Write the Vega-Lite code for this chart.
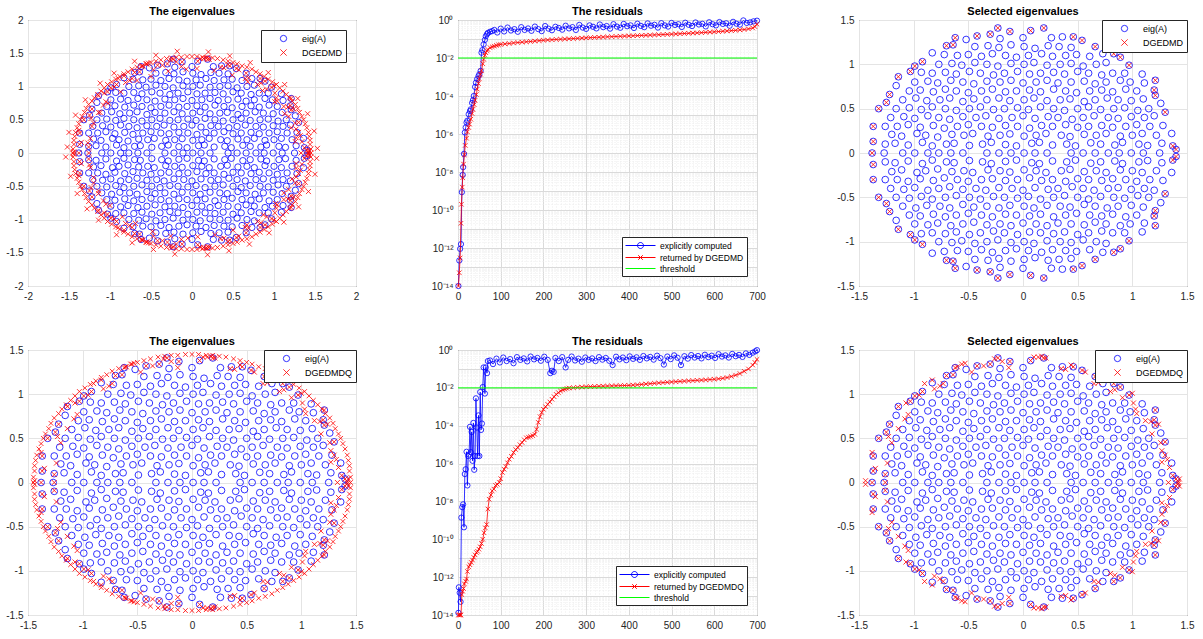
{
"$schema":"https://vega.github.io/schema/vega-lite/v6.json",
"padding":{"left":5,"top":5,"right":5,"bottom":5},
"datasets":{
"eig":[{"x":-1.26,"y":0.1},{"x":-1.17,"y":0.11},{"x":-1.05,"y":0.09},{"x":-0.92,"y":0.12},{"x":-0.83,"y":0.08},{"x":-0.7,"y":0.1},{"x":-0.63,"y":0.11},{"x":-0.49,"y":0.085},{"x":-0.37,"y":0.1},{"x":-0.29,"y":0.12},{"x":-0.16,"y":0.095},{"x":-0.06,"y":0.08},{"x":0.08,"y":0.11},{"x":0.15,"y":0.12},{"x":0.27,"y":0.09},{"x":0.4,"y":0.1},{"x":0.48,"y":0.08},{"x":0.62,"y":0.115},{"x":0.71,"y":0.1},{"x":0.84,"y":0.09},{"x":0.91,"y":0.12},{"x":1.06,"y":0.1},{"x":1.14,"y":0.085},{"x":1.27,"y":0.11},
{"x":-1.2,"y":0.21},{"x":-1.11,"y":0.19},{"x":-0.97,"y":0.22},{"x":-0.89,"y":0.2},{"x":-0.78,"y":0.18},{"x":-0.65,"y":0.21},{"x":-0.54,"y":0.2},{"x":-0.46,"y":0.22},{"x":-0.32,"y":0.19},{"x":-0.21,"y":0.2},{"x":-0.12,"y":0.215},{"x":0.01,"y":0.19},{"x":0.12,"y":0.2},{"x":0.21,"y":0.22},{"x":0.35,"y":0.2},{"x":0.43,"y":0.185},{"x":0.56,"y":0.21},{"x":0.67,"y":0.2},{"x":0.76,"y":0.22},{"x":0.89,"y":0.19},{"x":1,"y":0.2},{"x":1.09,"y":0.22},{"x":1.22,"y":0.2},
{"x":-1.15,"y":0.3},{"x":-1.05,"y":0.32},{"x":-0.94,"y":0.29},{"x":-0.82,"y":0.31},{"x":-0.72,"y":0.28},{"x":-0.6,"y":0.3},{"x":-0.5,"y":0.32},{"x":-0.38,"y":0.3},{"x":-0.28,"y":0.29},{"x":-0.16,"y":0.31},{"x":-0.05,"y":0.3},{"x":0.06,"y":0.28},{"x":0.17,"y":0.31},{"x":0.27,"y":0.3},{"x":0.39,"y":0.32},{"x":0.5,"y":0.29},{"x":0.6,"y":0.3},{"x":0.72,"y":0.31},{"x":0.82,"y":0.29},{"x":0.94,"y":0.3},{"x":1.04,"y":0.32},{"x":1.16,"y":0.3},
{"x":-1.21,"y":0.4},{"x":-1.09,"y":0.41},{"x":-0.99,"y":0.39},{"x":-0.87,"y":0.42},{"x":-0.77,"y":0.4},{"x":-0.67,"y":0.38},{"x":-0.55,"y":0.41},{"x":-0.43,"y":0.4},{"x":-0.34,"y":0.42},{"x":-0.22,"y":0.39},{"x":-0.1,"y":0.4},{"x":0,"y":0.42},{"x":0.11,"y":0.39},{"x":0.23,"y":0.41},{"x":0.32,"y":0.4},{"x":0.45,"y":0.38},{"x":0.55,"y":0.4},{"x":0.65,"y":0.42},{"x":0.78,"y":0.4},{"x":0.87,"y":0.39},{"x":0.99,"y":0.41},{"x":1.11,"y":0.4},{"x":1.2,"y":0.42},
{"x":-1.16,"y":0.5},{"x":-1.04,"y":0.51},{"x":-0.93,"y":0.49},{"x":-0.83,"y":0.52},{"x":-0.71,"y":0.5},{"x":-0.61,"y":0.48},{"x":-0.49,"y":0.5},{"x":-0.39,"y":0.52},{"x":-0.27,"y":0.49},{"x":-0.17,"y":0.5},{"x":-0.05,"y":0.51},{"x":0.05,"y":0.49},{"x":0.16,"y":0.52},{"x":0.28,"y":0.5},{"x":0.38,"y":0.48},{"x":0.5,"y":0.5},{"x":0.6,"y":0.52},{"x":0.71,"y":0.49},{"x":0.83,"y":0.5},{"x":0.93,"y":0.51},{"x":1.05,"y":0.48},{"x":1.15,"y":0.5},
{"x":-1.1,"y":0.6},{"x":-0.98,"y":0.62},{"x":-0.88,"y":0.59},{"x":-0.76,"y":0.6},{"x":-0.67,"y":0.62},{"x":-0.55,"y":0.58},{"x":-0.45,"y":0.61},{"x":-0.33,"y":0.6},{"x":-0.22,"y":0.62},{"x":-0.12,"y":0.59},{"x":0.01,"y":0.6},{"x":0.1,"y":0.62},{"x":0.22,"y":0.59},{"x":0.34,"y":0.6},{"x":0.43,"y":0.61},{"x":0.56,"y":0.58},{"x":0.66,"y":0.6},{"x":0.77,"y":0.62},{"x":0.87,"y":0.6},{"x":0.99,"y":0.59},{"x":1.1,"y":0.61},
{"x":-1.04,"y":0.7},{"x":-0.94,"y":0.71},{"x":-0.82,"y":0.69},{"x":-0.71,"y":0.72},{"x":-0.61,"y":0.7},{"x":-0.5,"y":0.68},{"x":-0.38,"y":0.7},{"x":-0.28,"y":0.72},{"x":-0.16,"y":0.69},{"x":-0.06,"y":0.7},{"x":0.06,"y":0.71},{"x":0.16,"y":0.69},{"x":0.28,"y":0.72},{"x":0.39,"y":0.7},{"x":0.49,"y":0.68},{"x":0.61,"y":0.7},{"x":0.72,"y":0.71},{"x":0.82,"y":0.69},{"x":0.94,"y":0.72},{"x":1.04,"y":0.7},
{"x":-0.99,"y":0.8},{"x":-0.87,"y":0.81},{"x":-0.78,"y":0.79},{"x":-0.66,"y":0.82},{"x":-0.55,"y":0.8},{"x":-0.45,"y":0.78},{"x":-0.33,"y":0.81},{"x":-0.21,"y":0.8},{"x":-0.11,"y":0.82},{"x":0,"y":0.79},{"x":0.12,"y":0.8},{"x":0.22,"y":0.82},{"x":0.32,"y":0.79},{"x":0.44,"y":0.8},{"x":0.56,"y":0.81},{"x":0.66,"y":0.78},{"x":0.76,"y":0.8},{"x":0.89,"y":0.82},{"x":0.98,"y":0.8},
{"x":-0.83,"y":0.9},{"x":-0.71,"y":0.91},{"x":-0.61,"y":0.89},{"x":-0.49,"y":0.92},{"x":-0.39,"y":0.9},{"x":-0.27,"y":0.88},{"x":-0.17,"y":0.9},{"x":-0.05,"y":0.92},{"x":0.06,"y":0.89},{"x":0.16,"y":0.9},{"x":0.28,"y":0.91},{"x":0.38,"y":0.89},{"x":0.5,"y":0.92},{"x":0.6,"y":0.9},{"x":0.72,"y":0.88},{"x":0.82,"y":0.9},
{"x":-0.77,"y":1},{"x":-0.65,"y":1.01},{"x":-0.56,"y":0.99},{"x":-0.44,"y":1.02},{"x":-0.33,"y":1},{"x":-0.23,"y":0.98},{"x":-0.11,"y":1.01},{"x":0.01,"y":1},{"x":0.1,"y":1.02},{"x":0.22,"y":0.99},{"x":0.34,"y":1},{"x":0.44,"y":1.01},{"x":0.55,"y":0.98},{"x":0.67,"y":1},{"x":0.76,"y":1.02},
{"x":-0.6,"y":1.1},{"x":-0.5,"y":1.11},{"x":-0.38,"y":1.09},{"x":-0.28,"y":1.12},{"x":-0.16,"y":1.1},{"x":-0.06,"y":1.08},{"x":0.05,"y":1.1},{"x":0.17,"y":1.12},{"x":0.27,"y":1.09},{"x":0.39,"y":1.1},{"x":0.49,"y":1.11},{"x":0.61,"y":1.09},
{"x":-0.44,"y":1.2},{"x":-0.32,"y":1.21},{"x":-0.22,"y":1.19},{"x":-0.11,"y":1.22},{"x":0.01,"y":1.2},{"x":0.11,"y":1.18},{"x":0.23,"y":1.21},{"x":0.33,"y":1.2},{"x":0.44,"y":1.19},
{"x":1.09,"y":0.89},{"x":-0.83,"y":1.13},{"x":-1.16,"y":0.76},{"x":1.36,"y":0.22},{"x":1.26,"y":0.56},{"x":0,"y":1.3},{"x":0.26,"y":1.3},{"x":0.36,"y":1.31},{"x":-0.52,"y":1.28},{"x":-0.21,"y":1.29},{"x":0.73,"y":1.12},{"x":-0.72,"y":1.11},{"x":-0.93,"y":0.91},{"x":0.93,"y":0.9},{"x":1.11,"y":0.79},{"x":-1.26,"y":0.3},{"x":1.28,"y":0.31},
{"x":-1.26,"y":-0.1},{"x":-1.17,"y":-0.11},{"x":-1.05,"y":-0.09},{"x":-0.92,"y":-0.12},{"x":-0.83,"y":-0.08},{"x":-0.7,"y":-0.1},{"x":-0.63,"y":-0.11},{"x":-0.49,"y":-0.085},{"x":-0.37,"y":-0.1},{"x":-0.29,"y":-0.12},{"x":-0.16,"y":-0.095},{"x":-0.06,"y":-0.08},{"x":0.08,"y":-0.11},{"x":0.15,"y":-0.12},{"x":0.27,"y":-0.09},{"x":0.4,"y":-0.1},{"x":0.48,"y":-0.08},{"x":0.62,"y":-0.115},{"x":0.71,"y":-0.1},{"x":0.84,"y":-0.09},{"x":0.91,"y":-0.12},{"x":1.06,"y":-0.1},{"x":1.14,"y":-0.085},{"x":1.27,"y":-0.11},
{"x":-1.2,"y":-0.21},{"x":-1.11,"y":-0.19},{"x":-0.97,"y":-0.22},{"x":-0.89,"y":-0.2},{"x":-0.78,"y":-0.18},{"x":-0.65,"y":-0.21},{"x":-0.54,"y":-0.2},{"x":-0.46,"y":-0.22},{"x":-0.32,"y":-0.19},{"x":-0.21,"y":-0.2},{"x":-0.12,"y":-0.215},{"x":0.01,"y":-0.19},{"x":0.12,"y":-0.2},{"x":0.21,"y":-0.22},{"x":0.35,"y":-0.2},{"x":0.43,"y":-0.185},{"x":0.56,"y":-0.21},{"x":0.67,"y":-0.2},{"x":0.76,"y":-0.22},{"x":0.89,"y":-0.19},{"x":1,"y":-0.2},{"x":1.09,"y":-0.22},{"x":1.22,"y":-0.2},
{"x":-1.15,"y":-0.3},{"x":-1.05,"y":-0.32},{"x":-0.94,"y":-0.29},{"x":-0.82,"y":-0.31},{"x":-0.72,"y":-0.28},{"x":-0.6,"y":-0.3},{"x":-0.5,"y":-0.32},{"x":-0.38,"y":-0.3},{"x":-0.28,"y":-0.29},{"x":-0.16,"y":-0.31},{"x":-0.05,"y":-0.3},{"x":0.06,"y":-0.28},{"x":0.17,"y":-0.31},{"x":0.27,"y":-0.3},{"x":0.39,"y":-0.32},{"x":0.5,"y":-0.29},{"x":0.6,"y":-0.3},{"x":0.72,"y":-0.31},{"x":0.82,"y":-0.29},{"x":0.94,"y":-0.3},{"x":1.04,"y":-0.32},{"x":1.16,"y":-0.3},
{"x":-1.21,"y":-0.4},{"x":-1.09,"y":-0.41},{"x":-0.99,"y":-0.39},{"x":-0.87,"y":-0.42},{"x":-0.77,"y":-0.4},{"x":-0.67,"y":-0.38},{"x":-0.55,"y":-0.41},{"x":-0.43,"y":-0.4},{"x":-0.34,"y":-0.42},{"x":-0.22,"y":-0.39},{"x":-0.1,"y":-0.4},{"x":0,"y":-0.42},{"x":0.11,"y":-0.39},{"x":0.23,"y":-0.41},{"x":0.32,"y":-0.4},{"x":0.45,"y":-0.38},{"x":0.55,"y":-0.4},{"x":0.65,"y":-0.42},{"x":0.78,"y":-0.4},{"x":0.87,"y":-0.39},{"x":0.99,"y":-0.41},{"x":1.11,"y":-0.4},{"x":1.2,"y":-0.42},
{"x":-1.16,"y":-0.5},{"x":-1.04,"y":-0.51},{"x":-0.93,"y":-0.49},{"x":-0.83,"y":-0.52},{"x":-0.71,"y":-0.5},{"x":-0.61,"y":-0.48},{"x":-0.49,"y":-0.5},{"x":-0.39,"y":-0.52},{"x":-0.27,"y":-0.49},{"x":-0.17,"y":-0.5},{"x":-0.05,"y":-0.51},{"x":0.05,"y":-0.49},{"x":0.16,"y":-0.52},{"x":0.28,"y":-0.5},{"x":0.38,"y":-0.48},{"x":0.5,"y":-0.5},{"x":0.6,"y":-0.52},{"x":0.71,"y":-0.49},{"x":0.83,"y":-0.5},{"x":0.93,"y":-0.51},{"x":1.05,"y":-0.48},{"x":1.15,"y":-0.5},
{"x":-1.1,"y":-0.6},{"x":-0.98,"y":-0.62},{"x":-0.88,"y":-0.59},{"x":-0.76,"y":-0.6},{"x":-0.67,"y":-0.62},{"x":-0.55,"y":-0.58},{"x":-0.45,"y":-0.61},{"x":-0.33,"y":-0.6},{"x":-0.22,"y":-0.62},{"x":-0.12,"y":-0.59},{"x":0.01,"y":-0.6},{"x":0.1,"y":-0.62},{"x":0.22,"y":-0.59},{"x":0.34,"y":-0.6},{"x":0.43,"y":-0.61},{"x":0.56,"y":-0.58},{"x":0.66,"y":-0.6},{"x":0.77,"y":-0.62},{"x":0.87,"y":-0.6},{"x":0.99,"y":-0.59},{"x":1.1,"y":-0.61},
{"x":-1.04,"y":-0.7},{"x":-0.94,"y":-0.71},{"x":-0.82,"y":-0.69},{"x":-0.71,"y":-0.72},{"x":-0.61,"y":-0.7},{"x":-0.5,"y":-0.68},{"x":-0.38,"y":-0.7},{"x":-0.28,"y":-0.72},{"x":-0.16,"y":-0.69},{"x":-0.06,"y":-0.7},{"x":0.06,"y":-0.71},{"x":0.16,"y":-0.69},{"x":0.28,"y":-0.72},{"x":0.39,"y":-0.7},{"x":0.49,"y":-0.68},{"x":0.61,"y":-0.7},{"x":0.72,"y":-0.71},{"x":0.82,"y":-0.69},{"x":0.94,"y":-0.72},{"x":1.04,"y":-0.7},
{"x":-0.99,"y":-0.8},{"x":-0.87,"y":-0.81},{"x":-0.78,"y":-0.79},{"x":-0.66,"y":-0.82},{"x":-0.55,"y":-0.8},{"x":-0.45,"y":-0.78},{"x":-0.33,"y":-0.81},{"x":-0.21,"y":-0.8},{"x":-0.11,"y":-0.82},{"x":0,"y":-0.79},{"x":0.12,"y":-0.8},{"x":0.22,"y":-0.82},{"x":0.32,"y":-0.79},{"x":0.44,"y":-0.8},{"x":0.56,"y":-0.81},{"x":0.66,"y":-0.78},{"x":0.76,"y":-0.8},{"x":0.89,"y":-0.82},{"x":0.98,"y":-0.8},
{"x":-0.83,"y":-0.9},{"x":-0.71,"y":-0.91},{"x":-0.61,"y":-0.89},{"x":-0.49,"y":-0.92},{"x":-0.39,"y":-0.9},{"x":-0.27,"y":-0.88},{"x":-0.17,"y":-0.9},{"x":-0.05,"y":-0.92},{"x":0.06,"y":-0.89},{"x":0.16,"y":-0.9},{"x":0.28,"y":-0.91},{"x":0.38,"y":-0.89},{"x":0.5,"y":-0.92},{"x":0.6,"y":-0.9},{"x":0.72,"y":-0.88},{"x":0.82,"y":-0.9},
{"x":-0.77,"y":-1},{"x":-0.65,"y":-1.01},{"x":-0.56,"y":-0.99},{"x":-0.44,"y":-1.02},{"x":-0.33,"y":-1},{"x":-0.23,"y":-0.98},{"x":-0.11,"y":-1.01},{"x":0.01,"y":-1},{"x":0.1,"y":-1.02},{"x":0.22,"y":-0.99},{"x":0.34,"y":-1},{"x":0.44,"y":-1.01},{"x":0.55,"y":-0.98},{"x":0.67,"y":-1},{"x":0.76,"y":-1.02},
{"x":-0.6,"y":-1.1},{"x":-0.5,"y":-1.11},{"x":-0.38,"y":-1.09},{"x":-0.28,"y":-1.12},{"x":-0.16,"y":-1.1},{"x":-0.06,"y":-1.08},{"x":0.05,"y":-1.1},{"x":0.17,"y":-1.12},{"x":0.27,"y":-1.09},{"x":0.39,"y":-1.1},{"x":0.49,"y":-1.11},{"x":0.61,"y":-1.09},
{"x":-0.44,"y":-1.2},{"x":-0.32,"y":-1.21},{"x":-0.22,"y":-1.19},{"x":-0.11,"y":-1.22},{"x":0.01,"y":-1.2},{"x":0.11,"y":-1.18},{"x":0.23,"y":-1.21},{"x":0.33,"y":-1.2},{"x":0.44,"y":-1.19},
{"x":1.09,"y":-0.89},{"x":-0.83,"y":-1.13},{"x":-1.16,"y":-0.76},{"x":1.36,"y":-0.22},{"x":1.26,"y":-0.56},{"x":0,"y":-1.3},{"x":0.26,"y":-1.3},{"x":0.36,"y":-1.31},{"x":-0.52,"y":-1.28},{"x":-0.21,"y":-1.29},{"x":0.73,"y":-1.12},{"x":-0.72,"y":-1.11},{"x":-0.93,"y":-0.91},{"x":0.93,"y":-0.9},{"x":1.11,"y":-0.79},{"x":-1.26,"y":-0.3},{"x":1.28,"y":-0.31},
{"x":-1.27,"y":0},{"x":-1.1,"y":0},{"x":-0.99,"y":0},{"x":-0.87,"y":0},{"x":-0.77,"y":0},{"x":-0.66,"y":0},{"x":-0.55,"y":0},{"x":-0.33,"y":0},{"x":-0.22,"y":0},{"x":-0.11,"y":0},{"x":0.01,"y":0},{"x":0.11,"y":0},{"x":0.22,"y":0},{"x":0.44,"y":0},{"x":0.55,"y":0},{"x":0.66,"y":0},{"x":0.78,"y":0},{"x":0.88,"y":0},{"x":0.99,"y":0},{"x":1.1,"y":0},{"x":1.25,"y":0}],
"sel1":[{"x":-0.23,"y":1.41},{"x":0.19,"y":1.41},{"x":0.07,"y":1.38},{"x":-0.12,"y":1.37},{"x":-0.3,"y":1.34},{"x":-0.42,"y":1.32},{"x":0.46,"y":1.31},{"x":0.54,"y":1.27},{"x":-0.62,"y":1.3},{"x":-0.64,"y":1.22},{"x":-0.7,"y":1.21},{"x":0.66,"y":1.2},{"x":0.83,"y":1.12},{"x":0.89,"y":1.08},{"x":0.97,"y":0.99},{"x":-0.92,"y":1.03},{"x":-0.99,"y":0.98},{"x":-1.03,"y":0.92},{"x":-1.14,"y":0.86},{"x":1.21,"y":0.82},{"x":1.2,"y":0.71},{"x":1.21,"y":0.65},{"x":-1.22,"y":0.66},{"x":-1.25,"y":0.57},{"x":-1.32,"y":0.5},{"x":1.3,"y":0.46},{"x":-1.37,"y":0.3},{"x":-1.37,"y":0.13},{"x":1.37,"y":0.08},{"x":1.4,"y":0.04},
{"x":-0.23,"y":-1.41},{"x":0.19,"y":-1.41},{"x":0.07,"y":-1.38},{"x":-0.12,"y":-1.37},{"x":-0.3,"y":-1.34},{"x":-0.42,"y":-1.32},{"x":0.46,"y":-1.31},{"x":0.54,"y":-1.27},{"x":-0.62,"y":-1.3},{"x":-0.64,"y":-1.22},{"x":-0.7,"y":-1.21},{"x":0.66,"y":-1.2},{"x":0.83,"y":-1.12},{"x":0.89,"y":-1.08},{"x":0.97,"y":-0.99},{"x":-0.92,"y":-1.03},{"x":-0.99,"y":-0.98},{"x":-1.03,"y":-0.92},{"x":-1.14,"y":-0.86},{"x":1.21,"y":-0.82},{"x":1.2,"y":-0.71},{"x":1.21,"y":-0.65},{"x":-1.22,"y":-0.66},{"x":-1.25,"y":-0.57},{"x":-1.32,"y":-0.5},{"x":1.3,"y":-0.46},{"x":-1.37,"y":-0.3},{"x":-1.37,"y":-0.13},{"x":1.37,"y":-0.08},{"x":1.4,"y":-0.04},{"x":-1.38,"y":0}],
"sel2":[{"x":-1.44,"y":0.02},{"x":-1.38,"y":0.34},{"x":-1.35,"y":0.16},{"x":-1.26,"y":0.09},{"x":-1.24,"y":0.22},{"x":-1.2,"y":0.45},{"x":-1.23,"y":0.52},{"x":-1.14,"y":0.61},{"x":-1.08,"y":0.72},{"x":-1.05,"y":0.77},{"x":-1.07,"y":0.9},{"x":-0.95,"y":0.99},{"x":-0.9,"y":1.12},{"x":-0.83,"y":1.16},{"x":-0.81,"y":1.06},{"x":-0.76,"y":1.09},{"x":-0.73,"y":1.12},{"x":-0.6,"y":1.31},{"x":-0.56,"y":1.34},{"x":-0.53,"y":1.35},{"x":-0.47,"y":1.25},{"x":-0.36,"y":1.32},{"x":-0.26,"y":1.4},{"x":-0.19,"y":1.37},{"x":-0.13,"y":1.3},{"x":0.1,"y":1.42},{"x":0.14,"y":1.42},{"x":0.17,"y":1.43},{"x":0.21,"y":1.41},{"x":0.35,"y":1.29},{"x":0.39,"y":1.28},{"x":0.44,"y":1.33},{"x":0.57,"y":1.25},{"x":0.65,"y":1.12},{"x":0.69,"y":1.13},{"x":0.8,"y":1.03},{"x":0.84,"y":1.05},{"x":0.91,"y":0.96},{"x":1,"y":1.01},{"x":1.01,"y":0.9},{"x":1.03,"y":0.83},{"x":1.04,"y":0.78},{"x":1.12,"y":0.7},{"x":1.17,"y":0.69},{"x":1.24,"y":0.66},{"x":1.18,"y":0.55},{"x":1.26,"y":0.45},{"x":1.27,"y":0.36},{"x":1.3,"y":0.31},{"x":1.32,"y":0.26},{"x":1.27,"y":0.23},{"x":1.34,"y":0.17},{"x":1.42,"y":0.01},{"x":1.43,"y":0.04},
{"x":-1.44,"y":-0.02},{"x":-1.38,"y":-0.34},{"x":-1.35,"y":-0.16},{"x":-1.26,"y":-0.09},{"x":-1.24,"y":-0.22},{"x":-1.2,"y":-0.45},{"x":-1.23,"y":-0.52},{"x":-1.14,"y":-0.61},{"x":-1.08,"y":-0.72},{"x":-1.05,"y":-0.77},{"x":-1.07,"y":-0.9},{"x":-0.95,"y":-0.99},{"x":-0.9,"y":-1.12},{"x":-0.83,"y":-1.16},{"x":-0.81,"y":-1.06},{"x":-0.76,"y":-1.09},{"x":-0.73,"y":-1.12},{"x":-0.6,"y":-1.31},{"x":-0.56,"y":-1.34},{"x":-0.53,"y":-1.35},{"x":-0.47,"y":-1.25},{"x":-0.36,"y":-1.32},{"x":-0.26,"y":-1.4},{"x":-0.19,"y":-1.37},{"x":-0.13,"y":-1.3},{"x":0.1,"y":-1.42},{"x":0.14,"y":-1.42},{"x":0.17,"y":-1.43},{"x":0.21,"y":-1.41},{"x":0.35,"y":-1.29},{"x":0.39,"y":-1.28},{"x":0.44,"y":-1.33},{"x":0.57,"y":-1.25},{"x":0.65,"y":-1.12},{"x":0.69,"y":-1.13},{"x":0.8,"y":-1.03},{"x":0.84,"y":-1.05},{"x":0.91,"y":-0.96},{"x":1,"y":-1.01},{"x":1.01,"y":-0.9},{"x":1.03,"y":-0.83},{"x":1.04,"y":-0.78},{"x":1.12,"y":-0.7},{"x":1.17,"y":-0.69},{"x":1.24,"y":-0.66},{"x":1.18,"y":-0.55},{"x":1.26,"y":-0.45},{"x":1.27,"y":-0.36},{"x":1.3,"y":-0.31},{"x":1.32,"y":-0.26},{"x":1.27,"y":-0.23},{"x":1.34,"y":-0.17},{"x":1.42,"y":-0.01},{"x":1.43,"y":-0.04},{"x":-1.26,"y":0},{"x":1.33,"y":0}],
"ring4":[{"x":1.45,"y":0},{"x":1.45,"y":0.06},{"x":1.44,"y":0.13},{"x":1.44,"y":0.19},{"x":1.43,"y":0.25},{"x":1.42,"y":0.31},{"x":1.4,"y":0.38},{"x":1.38,"y":0.44},{"x":1.36,"y":0.5},{"x":1.34,"y":0.55},{"x":1.31,"y":0.61},{"x":1.29,"y":0.67},{"x":1.26,"y":0.73},{"x":1.22,"y":0.78},{"x":1.19,"y":0.83},{"x":1.15,"y":0.88},{"x":1.11,"y":0.93},{"x":1.07,"y":0.98},{"x":1.03,"y":1.03},{"x":0.98,"y":1.07},{"x":0.93,"y":1.11},{"x":0.88,"y":1.15},{"x":0.83,"y":1.19},{"x":0.78,"y":1.22},{"x":0.73,"y":1.26},{"x":0.67,"y":1.29},{"x":0.61,"y":1.31},{"x":0.55,"y":1.34},{"x":0.5,"y":1.36},{"x":0.44,"y":1.38},{"x":0.38,"y":1.4},{"x":0.31,"y":1.42},{"x":0.25,"y":1.43},{"x":0.19,"y":1.44},{"x":0.13,"y":1.44},{"x":0.06,"y":1.45},
{"x":0,"y":1.45},{"x":-0.06,"y":1.45},{"x":-0.13,"y":1.44},{"x":-0.19,"y":1.44},{"x":-0.25,"y":1.43},{"x":-0.31,"y":1.42},{"x":-0.38,"y":1.4},{"x":-0.44,"y":1.38},{"x":-0.5,"y":1.36},{"x":-0.55,"y":1.34},{"x":-0.61,"y":1.31},{"x":-0.67,"y":1.29},{"x":-0.73,"y":1.26},{"x":-0.78,"y":1.22},{"x":-0.83,"y":1.19},{"x":-0.88,"y":1.15},{"x":-0.93,"y":1.11},{"x":-0.98,"y":1.07},{"x":-1.03,"y":1.03},{"x":-1.07,"y":0.98},{"x":-1.11,"y":0.93},{"x":-1.15,"y":0.88},{"x":-1.19,"y":0.83},{"x":-1.22,"y":0.78},{"x":-1.26,"y":0.73},{"x":-1.29,"y":0.67},{"x":-1.31,"y":0.61},{"x":-1.34,"y":0.55},{"x":-1.36,"y":0.5},{"x":-1.38,"y":0.44},{"x":-1.4,"y":0.38},{"x":-1.42,"y":0.31},{"x":-1.43,"y":0.25},{"x":-1.44,"y":0.19},{"x":-1.44,"y":0.13},{"x":-1.45,"y":0.06},
{"x":-1.45,"y":0},{"x":-1.45,"y":-0.06},{"x":-1.44,"y":-0.13},{"x":-1.44,"y":-0.19},{"x":-1.43,"y":-0.25},{"x":-1.42,"y":-0.31},{"x":-1.4,"y":-0.38},{"x":-1.38,"y":-0.44},{"x":-1.36,"y":-0.5},{"x":-1.34,"y":-0.55},{"x":-1.31,"y":-0.61},{"x":-1.29,"y":-0.67},{"x":-1.26,"y":-0.73},{"x":-1.22,"y":-0.78},{"x":-1.19,"y":-0.83},{"x":-1.15,"y":-0.88},{"x":-1.11,"y":-0.93},{"x":-1.07,"y":-0.98},{"x":-1.03,"y":-1.03},{"x":-0.98,"y":-1.07},{"x":-0.93,"y":-1.11},{"x":-0.88,"y":-1.15},{"x":-0.83,"y":-1.19},{"x":-0.78,"y":-1.22},{"x":-0.73,"y":-1.26},{"x":-0.67,"y":-1.29},{"x":-0.61,"y":-1.31},{"x":-0.55,"y":-1.34},{"x":-0.5,"y":-1.36},{"x":-0.44,"y":-1.38},{"x":-0.38,"y":-1.4},{"x":-0.31,"y":-1.42},{"x":-0.25,"y":-1.43},{"x":-0.19,"y":-1.44},{"x":-0.13,"y":-1.44},{"x":-0.06,"y":-1.45},
{"x":0,"y":-1.45},{"x":0.06,"y":-1.45},{"x":0.13,"y":-1.44},{"x":0.19,"y":-1.44},{"x":0.25,"y":-1.43},{"x":0.31,"y":-1.42},{"x":0.38,"y":-1.4},{"x":0.44,"y":-1.38},{"x":0.5,"y":-1.36},{"x":0.55,"y":-1.34},{"x":0.61,"y":-1.31},{"x":0.67,"y":-1.29},{"x":0.73,"y":-1.26},{"x":0.78,"y":-1.22},{"x":0.83,"y":-1.19},{"x":0.88,"y":-1.15},{"x":0.93,"y":-1.11},{"x":0.98,"y":-1.07},{"x":1.03,"y":-1.03},{"x":1.07,"y":-0.98},{"x":1.11,"y":-0.93},{"x":1.15,"y":-0.88},{"x":1.19,"y":-0.83},{"x":1.22,"y":-0.78},{"x":1.26,"y":-0.73},{"x":1.29,"y":-0.67},{"x":1.31,"y":-0.61},{"x":1.34,"y":-0.55},{"x":1.36,"y":-0.5},{"x":1.38,"y":-0.44},{"x":1.4,"y":-0.38},{"x":1.42,"y":-0.31},{"x":1.43,"y":-0.25},{"x":1.44,"y":-0.19},{"x":1.44,"y":-0.13},{"x":1.45,"y":-0.06}],
"ring1":[{"x":1.53,"y":0.07},{"x":1.26,"y":0.17},{"x":1.49,"y":0.33},{"x":1.21,"y":0.38},{"x":1.41,"y":0.59},{"x":1.13,"y":0.59},{"x":1.29,"y":0.82},{"x":1.01,"y":0.77},{"x":1.13,"y":1.03},{"x":0.86,"y":0.94},{"x":0.93,"y":1.21},{"x":0.68,"y":1.07},{"x":0.71,"y":1.36},{"x":0.49,"y":1.17},{"x":0.46,"y":1.46},{"x":0.27,"y":1.24},{"x":0.2,"y":1.52},{"x":0.06,"y":1.27},
{"x":-1.52,"y":0.09},{"x":-1.27,"y":0.15},{"x":-1.5,"y":0.31},{"x":-1.22,"y":0.4},{"x":-1.42,"y":0.57},{"x":-1.12,"y":0.61},{"x":-1.3,"y":0.8},{"x":-1.02,"y":0.75},{"x":-1.12,"y":1.05},{"x":-0.87,"y":0.92},{"x":-0.95,"y":1.2},{"x":-0.67,"y":1.09},{"x":-0.7,"y":1.38},{"x":-0.5,"y":1.15},{"x":-0.44,"y":1.47},{"x":-0.29,"y":1.23},{"x":-0.18,"y":1.53},{"x":-0.07,"y":1.26},
{"x":-1.54,"y":-0.06},{"x":-1.25,"y":-0.18},{"x":-1.48,"y":-0.35},{"x":-1.2,"y":-0.37},{"x":-1.4,"y":-0.61},{"x":-1.14,"y":-0.57},{"x":-1.28,"y":-0.84},{"x":-1,"y":-0.79},{"x":-1.14,"y":-1.01},{"x":-0.85,"y":-0.96},{"x":-0.92,"y":-1.23},{"x":-0.69,"y":-1.06},{"x":-0.73,"y":-1.35},{"x":-0.48,"y":-1.18},{"x":-0.47,"y":-1.45},{"x":-0.26,"y":-1.25},{"x":-0.21,"y":-1.52},{"x":-0.05,"y":-1.28},
{"x":1.52,"y":-0.08},{"x":1.27,"y":-0.16},{"x":1.5,"y":-0.32},{"x":1.22,"y":-0.39},{"x":1.42,"y":-0.58},{"x":1.12,"y":-0.6},{"x":1.3,"y":-0.81},{"x":1.02,"y":-0.76},{"x":1.12,"y":-1.04},{"x":0.87,"y":-0.93},{"x":0.94,"y":-1.2},{"x":0.67,"y":-1.08},{"x":0.7,"y":-1.37},{"x":0.5,"y":-1.16},{"x":0.45,"y":-1.47},{"x":0.28,"y":-1.23},{"x":0.19,"y":-1.53},{"x":0.07,"y":-1.26}],
"b1":[{"i":1,"v":1e-14},{"i":3,"v":2.2e-13},{"i":5,"v":9e-13},{"i":7,"v":1.6e-12},{"i":9,"v":8.7e-10},{"i":11,"v":7e-9},{"i":12,"v":1.8e-8},{"i":14,"v":9e-8},{"i":16,"v":1.2e-6},{"i":18,"v":2.2e-6},{"i":20,"v":4e-6},{"i":22,"v":5e-6},{"i":25,"v":1.1e-5},{"i":28,"v":1.6e-5},{"i":30,"v":2e-5},{"i":33,"v":4.3e-5},{"i":35,"v":6e-5},{"i":37,"v":1e-4},{"i":40,"v":3e-4},{"i":42,"v":5e-4},{"i":45,"v":7.8e-4},{"i":48,"v":1.1e-3},{"i":50,"v":1.4e-3},{"i":53,"v":2.1e-3},{"i":55,"v":1.9e-2},{"i":57,"v":2.6e-2},{"i":60,"v":5.2e-2},{"i":63,"v":9e-2},{"i":65,"v":0.14},{"i":68,"v":0.18},{"i":70,"v":0.21},{"i":75,"v":0.24},{"i":80,"v":0.26},{"i":85,"v":0.3},{"i":92,"v":0.22},{"i":100,"v":0.35},{"i":108,"v":0.25},{"i":116,"v":0.4},{"i":124,"v":0.28},{"i":132,"v":0.33},{"i":140,"v":0.24},{"i":148,"v":0.42},{"i":156,"v":0.3},{"i":164,"v":0.36},{"i":172,"v":0.27},{"i":180,"v":0.45},{"i":188,"v":0.33},{"i":196,"v":0.26},{"i":204,"v":0.48},{"i":212,"v":0.35},{"i":220,"v":0.29},{"i":228,"v":0.44},{"i":236,"v":0.38},{"i":244,"v":0.31},{"i":252,"v":0.5},{"i":260,"v":0.36},{"i":268,"v":0.42},{"i":276,"v":0.3},{"i":284,"v":0.55},{"i":292,"v":0.4},{"i":300,"v":0.34},{"i":308,"v":0.52},{"i":316,"v":0.44},{"i":324,"v":0.36},{"i":332,"v":0.58},{"i":340,"v":0.42},{"i":348,"v":0.48},{"i":356,"v":0.35},{"i":364,"v":0.6},{"i":372,"v":0.45},{"i":380,"v":0.39},{"i":388,"v":0.62},{"i":396,"v":0.47},{"i":404,"v":0.52},{"i":412,"v":0.38},{"i":420,"v":0.64},{"i":428,"v":0.49},{"i":436,"v":0.42},{"i":444,"v":0.66},{"i":452,"v":0.5},{"i":460,"v":0.56},{"i":468,"v":0.4},{"i":476,"v":0.68},{"i":484,"v":0.52},{"i":492,"v":0.45},{"i":500,"v":0.7},{"i":508,"v":0.55},{"i":516,"v":0.6},{"i":524,"v":0.43},{"i":532,"v":0.72},{"i":540,"v":0.56},{"i":548,"v":0.48},{"i":556,"v":0.74},{"i":564,"v":0.58},{"i":572,"v":0.63},{"i":580,"v":0.46},{"i":588,"v":0.76},{"i":596,"v":0.6},{"i":604,"v":0.52},{"i":612,"v":0.78},{"i":620,"v":0.62},{"i":628,"v":0.67},{"i":636,"v":0.5},{"i":644,"v":0.8},{"i":652,"v":0.64},{"i":660,"v":0.57},{"i":668,"v":0.95},{"i":676,"v":0.7},{"i":684,"v":0.75},{"i":692,"v":0.85},{"i":700,"v":0.92}],
"r1":[{"i":1,"v":1e-14},{"i":3,"v":5e-14},{"i":5,"v":3e-13},{"i":7,"v":2e-11},{"i":8,"v":2e-10},{"i":10,"v":1.6e-9},{"i":11,"v":5e-9},{"i":13,"v":2.6e-8},{"i":15,"v":8e-8},{"i":17,"v":2.5e-7},{"i":20,"v":6e-7},{"i":22,"v":1.3e-6},{"i":25,"v":2.2e-6},{"i":27,"v":3.3e-6},{"i":30,"v":6e-6},{"i":33,"v":1.2e-5},{"i":35,"v":2e-5},{"i":38,"v":3.5e-5},{"i":40,"v":6e-5},{"i":43,"v":1.2e-4},{"i":45,"v":2.3e-4},{"i":48,"v":4.5e-4},{"i":50,"v":8e-4},{"i":53,"v":1.4e-3},{"i":55,"v":2.1e-3},{"i":58,"v":5e-3},{"i":60,"v":8.7e-3},{"i":63,"v":1.4e-2},{"i":65,"v":1.9e-2},{"i":68,"v":2.4e-2},{"i":70,"v":2.8e-2},{"i":75,"v":3.5e-2},{"i":80,"v":3.9e-2},{"i":85,"v":4.2e-2},{"i":90,"v":4.6e-2},{"i":95,"v":4.9e-2},{"i":100,"v":5.2e-2},{"i":110,"v":5.5e-2},{"i":120,"v":5.8e-2},{"i":130,"v":6.2e-2},{"i":140,"v":6.5e-2},{"i":150,"v":6.8e-2},{"i":160,"v":7.1e-2},{"i":170,"v":7.4e-2},{"i":180,"v":7.8e-2},{"i":190,"v":8.2e-2},{"i":200,"v":8.6e-2},{"i":210,"v":8.9e-2},{"i":220,"v":9.2e-2},{"i":230,"v":9.5e-2},{"i":240,"v":9.8e-2},{"i":250,"v":0.1},{"i":260,"v":0.103},{"i":270,"v":0.106},{"i":280,"v":0.109},{"i":290,"v":0.112},{"i":300,"v":0.115},{"i":310,"v":0.118},{"i":320,"v":0.121},{"i":330,"v":0.124},{"i":340,"v":0.127},{"i":350,"v":0.13},{"i":360,"v":0.133},{"i":370,"v":0.136},{"i":380,"v":0.139},{"i":390,"v":0.142},{"i":400,"v":0.145},{"i":410,"v":0.148},{"i":420,"v":0.151},{"i":430,"v":0.154},{"i":440,"v":0.157},{"i":450,"v":0.16},{"i":460,"v":0.164},{"i":470,"v":0.168},{"i":480,"v":0.172},{"i":490,"v":0.176},{"i":500,"v":0.18},{"i":510,"v":0.185},{"i":520,"v":0.19},{"i":530,"v":0.195},{"i":540,"v":0.2},{"i":550,"v":0.205},{"i":560,"v":0.21},{"i":570,"v":0.216},{"i":580,"v":0.223},{"i":590,"v":0.23},{"i":600,"v":0.238},{"i":610,"v":0.246},{"i":620,"v":0.255},{"i":630,"v":0.265},{"i":640,"v":0.275},{"i":650,"v":0.285},{"i":660,"v":0.3},{"i":670,"v":0.315},{"i":680,"v":0.34},{"i":690,"v":0.38},{"i":695,"v":0.45},{"i":700,"v":0.6}],
"b2":[{"i":1,"v":1.3e-14},{"i":2,"v":2.9e-13},{"i":4,"v":1.5e-13},{"i":6,"v":5e-14},{"i":8,"v":1.4e-9},{"i":10,"v":5e-9},{"i":12,"v":7e-9},{"i":14,"v":4.3e-10},{"i":16,"v":2.8e-7},{"i":18,"v":5e-7},{"i":20,"v":4.2e-6},{"i":22,"v":7e-8},{"i":24,"v":2.5e-6},{"i":26,"v":3e-6},{"i":28,"v":8.7e-5},{"i":30,"v":4e-6},{"i":32,"v":4.7e-5},{"i":34,"v":1.4e-6},{"i":36,"v":1.4e-4},{"i":38,"v":4.7e-7},{"i":40,"v":2.5e-6},{"i":42,"v":2.8e-3},{"i":44,"v":8e-5},{"i":46,"v":2.5e-6},{"i":48,"v":3.5e-4},{"i":50,"v":2.5e-6},{"i":52,"v":6e-3},{"i":54,"v":6e-5},{"i":56,"v":1.3e-4},{"i":58,"v":1.1e-2},{"i":60,"v":0.12},{"i":63,"v":5e-3},{"i":65,"v":0.12},{"i":68,"v":6e-2},{"i":70,"v":0.26},{"i":75,"v":0.28},{"i":82,"v":0.18},{"i":90,"v":0.35},{"i":98,"v":0.22},{"i":106,"v":0.4},{"i":114,"v":0.26},{"i":122,"v":0.33},{"i":130,"v":0.2},{"i":138,"v":0.42},{"i":146,"v":0.3},{"i":154,"v":0.36},{"i":162,"v":0.25},{"i":170,"v":0.45},{"i":178,"v":0.32},{"i":186,"v":0.38},{"i":194,"v":0.27},{"i":202,"v":0.44},{"i":210,"v":0.3},{"i":216,"v":0.06},{"i":220,"v":0.08},{"i":224,"v":0.07},{"i":228,"v":0.38},{"i":236,"v":0.26},{"i":244,"v":0.42},{"i":252,"v":0.12},{"i":258,"v":0.3},{"i":266,"v":0.45},{"i":274,"v":0.28},{"i":282,"v":0.35},{"i":290,"v":0.24},{"i":298,"v":0.4},{"i":306,"v":0.3},{"i":314,"v":0.36},{"i":322,"v":0.26},{"i":330,"v":0.42},{"i":338,"v":0.31},{"i":346,"v":0.38},{"i":354,"v":0.27},{"i":362,"v":0.16},{"i":370,"v":0.44},{"i":378,"v":0.32},{"i":386,"v":0.4},{"i":394,"v":0.29},{"i":402,"v":0.46},{"i":410,"v":0.34},{"i":418,"v":0.41},{"i":426,"v":0.3},{"i":434,"v":0.48},{"i":442,"v":0.36},{"i":450,"v":0.43},{"i":458,"v":0.31},{"i":466,"v":0.5},{"i":474,"v":0.37},{"i":482,"v":0.17},{"i":490,"v":0.45},{"i":498,"v":0.33},{"i":506,"v":0.52},{"i":514,"v":0.39},{"i":522,"v":0.16},{"i":530,"v":0.47},{"i":538,"v":0.35},{"i":546,"v":0.54},{"i":554,"v":0.4},{"i":562,"v":0.48},{"i":570,"v":0.36},{"i":578,"v":0.56},{"i":586,"v":0.42},{"i":594,"v":0.5},{"i":602,"v":0.38},{"i":610,"v":0.6},{"i":618,"v":0.45},{"i":626,"v":0.52},{"i":634,"v":0.4},{"i":642,"v":0.62},{"i":650,"v":0.47},{"i":658,"v":0.55},{"i":666,"v":0.43},{"i":674,"v":0.66},{"i":682,"v":0.55},{"i":690,"v":0.72},{"i":696,"v":0.85},{"i":700,"v":0.98}],
"r2":[{"i":1,"v":1e-14},{"i":3,"v":1e-14},{"i":5,"v":1e-14},{"i":7,"v":1e-14},{"i":9,"v":1.2e-13},{"i":11,"v":1.8e-13},{"i":13,"v":2.5e-13},{"i":15,"v":4.4e-13},{"i":18,"v":6e-13},{"i":20,"v":8e-13},{"i":22,"v":2e-12},{"i":25,"v":3.5e-12},{"i":28,"v":4.5e-12},{"i":31,"v":6e-12},{"i":34,"v":8e-12},{"i":37,"v":1.1e-11},{"i":40,"v":1.5e-11},{"i":43,"v":2e-11},{"i":46,"v":2.3e-11},{"i":49,"v":3e-11},{"i":52,"v":4e-11},{"i":55,"v":6e-11},{"i":58,"v":1e-10},{"i":61,"v":2.2e-10},{"i":64,"v":4e-10},{"i":67,"v":6e-10},{"i":70,"v":4e-9},{"i":73,"v":1.3e-8},{"i":77,"v":2.2e-8},{"i":80,"v":3.6e-8},{"i":84,"v":4.5e-8},{"i":88,"v":7e-8},{"i":92,"v":8e-8},{"i":97,"v":1e-7},{"i":100,"v":1.6e-7},{"i":104,"v":3.4e-7},{"i":108,"v":5e-7},{"i":112,"v":7e-7},{"i":116,"v":1.1e-6},{"i":120,"v":1.7e-6},{"i":125,"v":2.4e-6},{"i":130,"v":3.8e-6},{"i":135,"v":5.5e-6},{"i":140,"v":7e-6},{"i":145,"v":1e-5},{"i":150,"v":1.3e-5},{"i":155,"v":1.8e-5},{"i":160,"v":2.3e-5},{"i":165,"v":2.5e-5},{"i":170,"v":2.7e-5},{"i":175,"v":3e-5},{"i":180,"v":3.5e-5},{"i":184,"v":6.5e-5},{"i":188,"v":1.5e-4},{"i":192,"v":3e-4},{"i":196,"v":5e-4},{"i":200,"v":7.4e-4},{"i":205,"v":1e-3},{"i":210,"v":1.35e-3},{"i":215,"v":1.8e-3},{"i":220,"v":2.5e-3},{"i":225,"v":3.4e-3},{"i":230,"v":4.5e-3},{"i":235,"v":5.6e-3},{"i":240,"v":6.8e-3},{"i":245,"v":7.8e-3},{"i":250,"v":8.6e-3},{"i":255,"v":9.3e-3},{"i":260,"v":9.8e-3},{"i":270,"v":1.03e-2},{"i":280,"v":1.07e-2},{"i":290,"v":1.11e-2},{"i":300,"v":1.15e-2},{"i":310,"v":1.17e-2},{"i":320,"v":1.19e-2},{"i":330,"v":1.21e-2},{"i":340,"v":1.23e-2},{"i":350,"v":1.25e-2},{"i":360,"v":1.27e-2},{"i":370,"v":1.29e-2},{"i":380,"v":1.31e-2},{"i":390,"v":1.33e-2},{"i":400,"v":1.35e-2},{"i":410,"v":1.4e-2},{"i":420,"v":1.45e-2},{"i":430,"v":1.52e-2},{"i":440,"v":1.6e-2},{"i":450,"v":1.67e-2},{"i":460,"v":1.75e-2},{"i":470,"v":1.82e-2},{"i":480,"v":1.9e-2},{"i":490,"v":1.97e-2},{"i":500,"v":2.05e-2},{"i":510,"v":2.12e-2},{"i":520,"v":2.2e-2},{"i":530,"v":2.27e-2},{"i":540,"v":2.35e-2},{"i":550,"v":2.42e-2},{"i":560,"v":2.5e-2},{"i":570,"v":2.57e-2},{"i":580,"v":2.65e-2},{"i":590,"v":2.75e-2},{"i":600,"v":2.85e-2},{"i":610,"v":3e-2},{"i":620,"v":3.2e-2},{"i":630,"v":3.5e-2},{"i":640,"v":4e-2},{"i":650,"v":4.7e-2},{"i":660,"v":5.7e-2},{"i":670,"v":7.5e-2},{"i":680,"v":0.1},{"i":690,"v":0.16},{"i":695,"v":0.22},{"i":700,"v":0.32}]
},
"concat":[
{"width":328,"height":266,"title":"The eigenvalues",
 "encoding":{"x":{"field":"x","type":"quantitative","scale":{"domain":[-2,2],"nice":false,"zero":false},"axis":{"values":[-2,-1.5,-1,-0.5,0,0.5,1,1.5,2],"title":null,"labelExpr":"toString(datum.value)"}},
  "y":{"field":"y","type":"quantitative","scale":{"domain":[-2,2],"nice":false,"zero":false},"axis":{"values":[-2,-1.5,-1,-0.5,0,0.5,1,1.5,2],"title":null,"labelExpr":"toString(datum.value)"}}},
 "layer":[
  {"data":{"name":"eig"},"mark":{"type":"point","size":40},"encoding":{"color":{"datum":"eig(A)","scale":{"domain":["eig(A)","DGEDMD"],"range":["#0000ff","#ff0000"]},"legend":{"title":null,"orient":"top-right","offset":10,"symbolSize":40,"labelFontSize":9,"symbolOffset":14,"labelOffset":14,"padding":4,"rowPadding":3,"fillColor":"#ffffff","strokeColor":"#262626","encode":{"symbols":{"update":{"stroke":{"signal":"datum.value=='eig(A)'?'#0000ff':'#ff0000'"},"fill":{"value":"transparent"}}}}}},"shape":{"datum":"eig(A)","scale":{"domain":["eig(A)","DGEDMD"],"range":["circle","M-1,-1L1,1M-1,1L1,-1"]},"legend":{"title":null,"orient":"top-right","offset":10,"symbolSize":40,"labelFontSize":9,"symbolOffset":14,"labelOffset":14,"padding":4,"rowPadding":3,"fillColor":"#ffffff","strokeColor":"#262626","encode":{"symbols":{"update":{"stroke":{"signal":"datum.value=='eig(A)'?'#0000ff':'#ff0000'"},"fill":{"value":"transparent"}}}}}}}},
  {"data":{"name":"sel1"},"mark":{"type":"point","size":40},"encoding":{"color":{"datum":"eig(A)"},"shape":{"datum":"eig(A)"}}},
  {"data":{"name":"ring4"},"mark":{"type":"point","size":25},"encoding":{"color":{"datum":"DGEDMD"},"shape":{"datum":"DGEDMD"}}},
  {"data":{"name":"ring1"},"mark":{"type":"point","size":25},"encoding":{"color":{"datum":"DGEDMD"},"shape":{"datum":"DGEDMD"}}},
  {"data":{"name":"sel1"},"mark":{"type":"point","size":25},"encoding":{"color":{"datum":"DGEDMD"},"shape":{"datum":"DGEDMD"}}},
  {"data":{"name":"sel2"},"mark":{"type":"point","size":25},"encoding":{"color":{"datum":"DGEDMD"},"shape":{"datum":"DGEDMD"}}}
 ]},
{"width":299,"height":266,"title":"The residuals",
 "encoding":{"x":{"field":"i","type":"quantitative","scale":{"domain":[0,700],"nice":false,"zero":false},"axis":{"title":null,"values":[0,10,20,30,40,50,60,70,80,90,100,110,120,130,140,150,160,170,180,190,200,210,220,230,240,250,260,270,280,290,300,310,320,330,340,350,360,370,380,390,400,410,420,430,440,450,460,470,480,490,500,510,520,530,540,550,560,570,580,590,600,610,620,630,640,650,660,670,680,690,700],"labelExpr":"datum.value % 100 == 0 ? toString(datum.value) : ''","gridDash":{"condition":{"test":"datum.value % 100 != 0","value":[1,2]},"value":[]},"gridColor":{"condition":{"test":"datum.value % 100 != 0","value":"#ececec"},"value":"#dadada"}}},
  "y":{"field":"v","type":"quantitative","scale":{"type":"log","domain":[1e-14,1],"nice":false},"axis":{"title":null,"values":[1e-14,2e-14,3e-14,4e-14,5e-14,6e-14,7e-14,8e-14,9e-14,1e-13,2e-13,3e-13,4e-13,5e-13,6e-13,7e-13,8e-13,9e-13,1e-12,2e-12,3e-12,4e-12,5e-12,6e-12,7e-12,8e-12,9e-12,1e-11,2e-11,3e-11,4e-11,5e-11,6e-11,7e-11,8e-11,9e-11,1e-10,2e-10,3e-10,4e-10,5e-10,6e-10,7e-10,8e-10,9e-10,1e-9,2e-9,3e-9,4e-9,5e-9,6e-9,7e-9,8e-9,9e-9,1e-8,2e-8,3e-8,4e-8,5e-8,6e-8,7e-8,8e-8,9e-8,1e-7,2e-7,3e-7,4e-7,5e-7,6e-7,7e-7,8e-7,9e-7,1e-6,2e-6,3e-6,4e-6,5e-6,6e-6,7e-6,8e-6,9e-6,1e-5,2e-5,3e-5,4e-5,5e-5,6e-5,7e-5,8e-5,9e-5,1e-4,2e-4,3e-4,4e-4,5e-4,6e-4,7e-4,8e-4,9e-4,1e-3,2e-3,3e-3,4e-3,5e-3,6e-3,7e-3,8e-3,9e-3,1e-2,2e-2,3e-2,4e-2,5e-2,6e-2,7e-2,8e-2,9e-2,0.1,0.2,0.3,0.4,0.5,0.6,0.7,0.8,0.9,1],"labelExpr":"(abs(log(datum.value)/LN10 - round(log(datum.value)/LN10)) < 0.01 && round(log(datum.value)/LN10) % 2 == 0) ? '10' + replace(replace(replace(replace(replace(replace(replace(toString(round(log(datum.value)/LN10)),'-','⁻'),'0','⁰'),'1','¹'),'2','²'),'4','⁴'),'6','⁶'),'8','⁸') : ''","gridDash":{"condition":{"test":"abs(log(datum.value)/LN10 - round(log(datum.value)/LN10)) > 0.01","value":[1,2]},"value":[]},"gridColor":{"condition":{"test":"abs(log(datum.value)/LN10 - round(log(datum.value)/LN10)) > 0.01","value":"#ececec"},"value":"#dadada"}}}},
 "layer":[
  {"data":{"name":"b1"},"mark":{"type":"line","strokeWidth":0.8},"encoding":{"color":{"datum":"explicitly computed","scale":{"domain":["explicitly computed","returned by DGEDMD","threshold"],"range":["#0000ff","#ff0000","#00ff00"]},"legend":{"title":null,"orient":"bottom-right","offset":10,"symbolSize":100,"labelFontSize":8.5,"symbolOffset":10,"labelOffset":14,"padding":3,"rowPadding":1,"fillColor":"#ffffff","strokeColor":"#262626","symbolStrokeWidth":1,"encode":{"symbols":{"update":{"shape":{"signal":"datum.value=='threshold'?'M-3,0L3,0':datum.value=='explicitly computed'?'M-3,0L3,0M0.6,0A0.6,0.6,0,1,1,-0.6,0A0.6,0.6,0,1,1,0.6,0':'M-3,0L3,0M-0.45,-0.45L0.45,0.45M-0.45,0.45L0.45,-0.45'"},"stroke":{"signal":"datum.value=='explicitly computed'?'#0000ff':datum.value=='threshold'?'#00ff00':'#ff0000'"},"fill":{"value":"transparent"}}}}}}}},
  {"data":{"name":"b1"},"mark":{"type":"point","shape":"circle","size":28},"encoding":{"color":{"datum":"explicitly computed"}}},
  {"data":{"name":"r1"},"mark":{"type":"line","strokeWidth":0.8},"encoding":{"color":{"datum":"returned by DGEDMD"}}},
  {"data":{"name":"r1"},"mark":{"type":"point","shape":"M-1,-1L1,1M-1,1L1,-1","size":20},"encoding":{"color":{"datum":"returned by DGEDMD"}}},
  {"data":{"values":[{"i":0,"i2":700,"v":0.01}]},"mark":{"type":"rule","strokeWidth":1},"encoding":{"x2":{"field":"i2"},"color":{"datum":"threshold"}}}
 ]},
{"width":328,"height":266,"title":"Selected eigenvalues",
 "encoding":{"x":{"field":"x","type":"quantitative","scale":{"domain":[-1.5,1.5],"nice":false,"zero":false},"axis":{"values":[-1.5,-1,-0.5,0,0.5,1,1.5],"title":null,"labelExpr":"toString(datum.value)"}},
  "y":{"field":"y","type":"quantitative","scale":{"domain":[-1.5,1.5],"nice":false,"zero":false},"axis":{"values":[-1.5,-1,-0.5,0,0.5,1,1.5],"title":null,"labelExpr":"toString(datum.value)"}}},
 "layer":[
  {"data":{"name":"eig"},"mark":{"type":"point","size":45},"encoding":{"color":{"datum":"eig(A)","scale":{"domain":["eig(A)","DGEDMD"],"range":["#0000ff","#ff0000"]},"legend":{"title":null,"orient":"top-right","offset":0,"symbolSize":40,"labelFontSize":9,"symbolOffset":14,"labelOffset":14,"padding":4,"rowPadding":3,"fillColor":"#ffffff","strokeColor":"#262626","encode":{"symbols":{"update":{"stroke":{"signal":"datum.value=='eig(A)'?'#0000ff':'#ff0000'"},"fill":{"value":"transparent"}}}}}},"shape":{"datum":"eig(A)","scale":{"domain":["eig(A)","DGEDMD"],"range":["circle","M-1,-1L1,1M-1,1L1,-1"]},"legend":{"title":null,"orient":"top-right","offset":0,"symbolSize":40,"labelFontSize":9,"symbolOffset":14,"labelOffset":14,"padding":4,"rowPadding":3,"fillColor":"#ffffff","strokeColor":"#262626","encode":{"symbols":{"update":{"stroke":{"signal":"datum.value=='eig(A)'?'#0000ff':'#ff0000'"},"fill":{"value":"transparent"}}}}}}}},
  {"data":{"name":"sel1"},"mark":{"type":"point","size":45},"encoding":{"color":{"datum":"eig(A)"},"shape":{"datum":"eig(A)"}}},
  {"data":{"name":"sel1"},"mark":{"type":"point","size":25},"encoding":{"color":{"datum":"DGEDMD"},"shape":{"datum":"DGEDMD"}}}
 ]},
{"width":328,"height":265,"title":"The eigenvalues",
 "encoding":{"x":{"field":"x","type":"quantitative","scale":{"domain":[-1.5,1.5],"nice":false,"zero":false},"axis":{"values":[-1.5,-1,-0.5,0,0.5,1,1.5],"title":null,"labelExpr":"toString(datum.value)"}},
  "y":{"field":"y","type":"quantitative","scale":{"domain":[-1.5,1.5],"nice":false,"zero":false},"axis":{"values":[-1.5,-1,-0.5,0,0.5,1,1.5],"title":null,"labelExpr":"toString(datum.value)"}}},
 "layer":[
  {"data":{"name":"eig"},"mark":{"type":"point","size":45},"encoding":{"color":{"datum":"eig(A)","scale":{"domain":["eig(A)","DGEDMDQ"],"range":["#0000ff","#ff0000"]},"legend":{"title":null,"orient":"top-right","offset":0,"symbolSize":40,"labelFontSize":9,"symbolOffset":14,"labelOffset":14,"padding":4,"rowPadding":3,"fillColor":"#ffffff","strokeColor":"#262626","encode":{"symbols":{"update":{"stroke":{"signal":"datum.value=='eig(A)'?'#0000ff':'#ff0000'"},"fill":{"value":"transparent"}}}}}},"shape":{"datum":"eig(A)","scale":{"domain":["eig(A)","DGEDMDQ"],"range":["circle","M-1,-1L1,1M-1,1L1,-1"]},"legend":{"title":null,"orient":"top-right","offset":0,"symbolSize":40,"labelFontSize":9,"symbolOffset":14,"labelOffset":14,"padding":4,"rowPadding":3,"fillColor":"#ffffff","strokeColor":"#262626","encode":{"symbols":{"update":{"stroke":{"signal":"datum.value=='eig(A)'?'#0000ff':'#ff0000'"},"fill":{"value":"transparent"}}}}}}}},
  {"data":{"name":"sel1"},"mark":{"type":"point","size":45},"encoding":{"color":{"datum":"eig(A)"},"shape":{"datum":"eig(A)"}}},
  {"data":{"name":"ring4"},"mark":{"type":"point","size":22},"encoding":{"color":{"datum":"DGEDMDQ"},"shape":{"datum":"DGEDMDQ"}}},
  {"data":{"name":"sel1"},"mark":{"type":"point","size":25},"encoding":{"color":{"datum":"DGEDMDQ"},"shape":{"datum":"DGEDMDQ"}}},
  {"data":{"name":"sel2"},"mark":{"type":"point","size":25},"encoding":{"color":{"datum":"DGEDMDQ"},"shape":{"datum":"DGEDMDQ"}}}
 ]},
{"width":299,"height":265,"title":"The residuals",
 "encoding":{"x":{"field":"i","type":"quantitative","scale":{"domain":[0,700],"nice":false,"zero":false},"axis":{"title":null,"values":[0,10,20,30,40,50,60,70,80,90,100,110,120,130,140,150,160,170,180,190,200,210,220,230,240,250,260,270,280,290,300,310,320,330,340,350,360,370,380,390,400,410,420,430,440,450,460,470,480,490,500,510,520,530,540,550,560,570,580,590,600,610,620,630,640,650,660,670,680,690,700],"labelExpr":"datum.value % 100 == 0 ? toString(datum.value) : ''","gridDash":{"condition":{"test":"datum.value % 100 != 0","value":[1,2]},"value":[]},"gridColor":{"condition":{"test":"datum.value % 100 != 0","value":"#ececec"},"value":"#dadada"}}},
  "y":{"field":"v","type":"quantitative","scale":{"type":"log","domain":[1e-14,1],"nice":false},"axis":{"title":null,"values":[1e-14,2e-14,3e-14,4e-14,5e-14,6e-14,7e-14,8e-14,9e-14,1e-13,2e-13,3e-13,4e-13,5e-13,6e-13,7e-13,8e-13,9e-13,1e-12,2e-12,3e-12,4e-12,5e-12,6e-12,7e-12,8e-12,9e-12,1e-11,2e-11,3e-11,4e-11,5e-11,6e-11,7e-11,8e-11,9e-11,1e-10,2e-10,3e-10,4e-10,5e-10,6e-10,7e-10,8e-10,9e-10,1e-9,2e-9,3e-9,4e-9,5e-9,6e-9,7e-9,8e-9,9e-9,1e-8,2e-8,3e-8,4e-8,5e-8,6e-8,7e-8,8e-8,9e-8,1e-7,2e-7,3e-7,4e-7,5e-7,6e-7,7e-7,8e-7,9e-7,1e-6,2e-6,3e-6,4e-6,5e-6,6e-6,7e-6,8e-6,9e-6,1e-5,2e-5,3e-5,4e-5,5e-5,6e-5,7e-5,8e-5,9e-5,1e-4,2e-4,3e-4,4e-4,5e-4,6e-4,7e-4,8e-4,9e-4,1e-3,2e-3,3e-3,4e-3,5e-3,6e-3,7e-3,8e-3,9e-3,1e-2,2e-2,3e-2,4e-2,5e-2,6e-2,7e-2,8e-2,9e-2,0.1,0.2,0.3,0.4,0.5,0.6,0.7,0.8,0.9,1],"labelExpr":"(abs(log(datum.value)/LN10 - round(log(datum.value)/LN10)) < 0.01 && round(log(datum.value)/LN10) % 2 == 0) ? '10' + replace(replace(replace(replace(replace(replace(replace(toString(round(log(datum.value)/LN10)),'-','⁻'),'0','⁰'),'1','¹'),'2','²'),'4','⁴'),'6','⁶'),'8','⁸') : ''","gridDash":{"condition":{"test":"abs(log(datum.value)/LN10 - round(log(datum.value)/LN10)) > 0.01","value":[1,2]},"value":[]},"gridColor":{"condition":{"test":"abs(log(datum.value)/LN10 - round(log(datum.value)/LN10)) > 0.01","value":"#ececec"},"value":"#dadada"}}}},
 "layer":[
  {"data":{"name":"b2"},"mark":{"type":"line","strokeWidth":0.8},"encoding":{"color":{"datum":"explicitly computed","scale":{"domain":["explicitly computed","returned by DGEDMDQ","threshold"],"range":["#0000ff","#ff0000","#00ff00"]},"legend":{"title":null,"orient":"bottom-right","offset":10,"symbolSize":100,"labelFontSize":8.5,"symbolOffset":10,"labelOffset":14,"padding":3,"rowPadding":1,"fillColor":"#ffffff","strokeColor":"#262626","symbolStrokeWidth":1,"encode":{"symbols":{"update":{"shape":{"signal":"datum.value=='threshold'?'M-3,0L3,0':datum.value=='explicitly computed'?'M-3,0L3,0M0.6,0A0.6,0.6,0,1,1,-0.6,0A0.6,0.6,0,1,1,0.6,0':'M-3,0L3,0M-0.45,-0.45L0.45,0.45M-0.45,0.45L0.45,-0.45'"},"stroke":{"signal":"datum.value=='explicitly computed'?'#0000ff':datum.value=='threshold'?'#00ff00':'#ff0000'"},"fill":{"value":"transparent"}}}}}}}},
  {"data":{"name":"b2"},"mark":{"type":"point","shape":"circle","size":28},"encoding":{"color":{"datum":"explicitly computed"}}},
  {"data":{"name":"r2"},"mark":{"type":"line","strokeWidth":0.8},"encoding":{"color":{"datum":"returned by DGEDMDQ"}}},
  {"data":{"name":"r2"},"mark":{"type":"point","shape":"M-1,-1L1,1M-1,1L1,-1","size":20},"encoding":{"color":{"datum":"returned by DGEDMDQ"}}},
  {"data":{"values":[{"i":0,"i2":700,"v":0.01}]},"mark":{"type":"rule","strokeWidth":1},"encoding":{"x2":{"field":"i2"},"color":{"datum":"threshold"}}}
 ]},
{"width":328,"height":265,"title":"Selected eigenvalues",
 "encoding":{"x":{"field":"x","type":"quantitative","scale":{"domain":[-1.5,1.5],"nice":false,"zero":false},"axis":{"values":[-1.5,-1,-0.5,0,0.5,1,1.5],"title":null,"labelExpr":"toString(datum.value)"}},
  "y":{"field":"y","type":"quantitative","scale":{"domain":[-1.5,1.5],"nice":false,"zero":false},"axis":{"values":[-1.5,-1,-0.5,0,0.5,1,1.5],"title":null,"labelExpr":"toString(datum.value)"}}},
 "layer":[
  {"data":{"name":"eig"},"mark":{"type":"point","size":45},"encoding":{"color":{"datum":"eig(A)","scale":{"domain":["eig(A)","DGEDMDQ"],"range":["#0000ff","#ff0000"]},"legend":{"title":null,"orient":"top-right","offset":0,"symbolSize":40,"labelFontSize":9,"symbolOffset":14,"labelOffset":14,"padding":4,"rowPadding":3,"fillColor":"#ffffff","strokeColor":"#262626","encode":{"symbols":{"update":{"stroke":{"signal":"datum.value=='eig(A)'?'#0000ff':'#ff0000'"},"fill":{"value":"transparent"}}}}}},"shape":{"datum":"eig(A)","scale":{"domain":["eig(A)","DGEDMDQ"],"range":["circle","M-1,-1L1,1M-1,1L1,-1"]},"legend":{"title":null,"orient":"top-right","offset":0,"symbolSize":40,"labelFontSize":9,"symbolOffset":14,"labelOffset":14,"padding":4,"rowPadding":3,"fillColor":"#ffffff","strokeColor":"#262626","encode":{"symbols":{"update":{"stroke":{"signal":"datum.value=='eig(A)'?'#0000ff':'#ff0000'"},"fill":{"value":"transparent"}}}}}}}},
  {"data":{"name":"sel1"},"mark":{"type":"point","size":45},"encoding":{"color":{"datum":"eig(A)"},"shape":{"datum":"eig(A)"}}},
  {"data":{"name":"sel1"},"mark":{"type":"point","size":25},"encoding":{"color":{"datum":"DGEDMDQ"},"shape":{"datum":"DGEDMDQ"}}},
  {"data":{"name":"sel2"},"mark":{"type":"point","size":25},"encoding":{"color":{"datum":"DGEDMDQ"},"shape":{"datum":"DGEDMDQ"}}}
 ]}
],
"columns":3,
"spacing":{"row":64,"column":102},
"bounds":"flush",
"align":"each",
"resolve":{"scale":{"color":"independent","shape":"independent","x":"independent","y":"independent"},"legend":{"color":"independent","shape":"independent"}},
"config":{
 "font":"Liberation Sans",
 "view":{"stroke":"#262626","strokeWidth":1},
 "point":{"filled":false,"opacity":1,"strokeWidth":0.8},
 "axis":{"domain":false,"ticks":false,"grid":true,"gridColor":"#e4e4e4","labelFontSize":10,"labelColor":"#262626","labelPadding":5,"labelFont":"Liberation Sans","labelOverlap":false,"labelFlush":false},
 "title":{"fontSize":11,"fontWeight":"bold","color":"#000000","offset":-2,"frame":"group","font":"Liberation Sans"},
 "legend":{"labelFont":"Liberation Sans","labelColor":"#000000"}
}
}
